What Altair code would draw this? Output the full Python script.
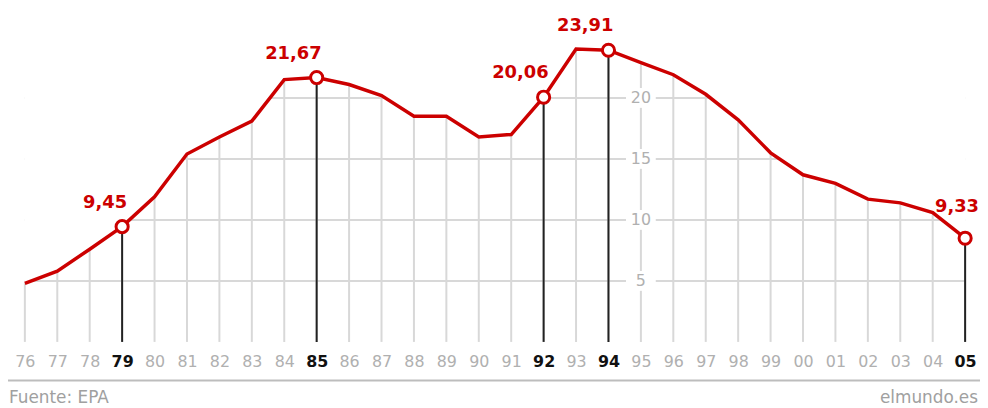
import altair as alt
import pandas as pd

years = list(range(1976, 2006))
values = [4.8, 5.8, 7.6, 9.45, 11.9, 15.4, 16.8, 18.1, 21.5, 21.67,
          21.1, 20.2, 18.5, 18.5, 16.8, 17.0, 20.06, 24.0, 23.91, 22.9,
          21.9, 20.3, 18.2, 15.5, 13.7, 13.0, 11.7, 11.4, 10.6, 8.5]

hl_years = [1979, 1985, 1992, 1994, 2005]
hl_values = [9.45, 21.67, 20.06, 23.91, 8.5]
hl_labels = ["9,45", "21,67", "20,06", "23,91", "9,33"]

ytick_values = [5, 10, 15, 20]
ytick_labels = ["5", "10", "15", "20"]
ylabel_year = 1995

RED = "#cc0000"
GRID = "#d8d8d8"
FONT = "DejaVu Sans"
YMAX = 26.83

df = pd.DataFrame({"year": years, "value": values})
hl = pd.DataFrame({"year": hl_years, "value": hl_values, "label": hl_labels})
yl = pd.DataFrame({"year": [ylabel_year] * len(ytick_values), "value": ytick_values, "label": ytick_labels})
hg = pd.DataFrame({"value": ytick_values, "x0": [years[0]] * 4, "x1": [years[-1]] * 4})
one = pd.DataFrame({"k": [0]})

W, H = 948, 330
xscale = alt.Scale(domain=[1976, 2005], nice=False, zero=False)
yscale = alt.Scale(domain=[0, YMAX], nice=False, zero=True)

test = "indexof([1979,1985,1992,1994,2005], datum.value) >= 0"

xaxis = alt.Axis(values=years, labelExpr="slice(toString(datum.value), 2)",
                 grid=False, domain=False, ticks=False,
                 title=None, labelFlush=False, labelOverlap=False, labelBound=False,
                 labelFont=FONT, labelFontSize=16, labelPadding=12,
                 labelColor={"condition": {"test": test, "value": "#111111"}, "value": "#b0b0b0"},
                 labelFontWeight={"condition": {"test": test, "value": "bold"}, "value": "normal"})
X = alt.X("year:Q", scale=xscale, axis=xaxis)
Y = alt.Y("value:Q", scale=yscale, axis=None)

# horizontal grid lines
hgrid = alt.Chart(hg).mark_rule(color=GRID, strokeWidth=2).encode(
    x=alt.X("x0:Q", scale=xscale, axis=xaxis), x2="x1:Q", y=Y)

# white cover above the curve (hides horizontal grid above the line)
cover = alt.Chart(df).mark_area(color="white", opacity=1, interpolate="linear").encode(
    x=X, y=Y, y2=alt.datum(YMAX))

# vertical grid lines, from 0 up to the curve
vgrid = alt.Chart(df).mark_rule(color=GRID, strokeWidth=2).encode(
    x=X, y=Y, y2=alt.datum(0))

box_shape = "M-1,-0.667L1,-0.667L1,0.667L-1,0.667Z"
ybox = alt.Chart(yl).mark_point(shape=box_shape, filled=True, fill="white", opacity=1,
                                strokeWidth=0, size=900).encode(x=X, y=Y)
ytext = alt.Chart(yl).mark_text(font=FONT, fontSize=16, color="#b0b0b0",
                                align="center", baseline="middle").encode(x=X, y=Y, text="label:N")

rules = alt.Chart(hl).mark_rule(color="#222222", strokeWidth=2).encode(
    x=X, y=Y, y2=alt.datum(0))

line = alt.Chart(df).mark_line(color=RED, strokeWidth=3.5).encode(x=X, y=Y)

dots = alt.Chart(hl).mark_circle(fill="white", stroke=RED, strokeWidth=3, size=150, opacity=1).encode(
    x=X, y=Y)

lab_main = alt.Chart(hl).transform_filter("datum.year < 2005").mark_text(
    font=FONT, fontSize=18, fontWeight="bold", color=RED, align="right",
    baseline="middle", dx=5, dy=-24).encode(x=X, y=Y, text="label:N")
lab_last = alt.Chart(hl).transform_filter("datum.year == 2005").mark_text(
    font=FONT, fontSize=18, fontWeight="bold", color=RED, align="right",
    baseline="middle", dx=14, dy=-31).encode(x=X, y=Y, text="label:N")

sep = alt.Chart(one).mark_rule(color="#bdbdbd", strokeWidth=2).encode(
    x=alt.value(-17), x2=alt.value(963), y=alt.value(H + 39))
src = alt.Chart(one).mark_text(text="Fuente: EPA", font=FONT, fontSize=17, color="#a0a0a0",
                               align="left", baseline="middle").encode(
    x=alt.value(-16), y=alt.value(H + 57))
brand = alt.Chart(one).mark_text(text="elmundo.es", font=FONT, fontSize=17, color="#a0a0a0",
                                 align="right", baseline="middle").encode(
    x=alt.value(961), y=alt.value(H + 57))

chart = alt.layer(hgrid, cover, vgrid, ybox, ytext, rules, line, dots, lab_main, lab_last,
                  sep, src, brand).properties(
    width=W, height=H, autosize="none",
    padding={"left": 17, "top": 5, "right": 15, "bottom": 68},
    background="white",
).configure_view(stroke=None)

chart.save("out.html", embed_options={"renderer": "svg", "actions": False})
